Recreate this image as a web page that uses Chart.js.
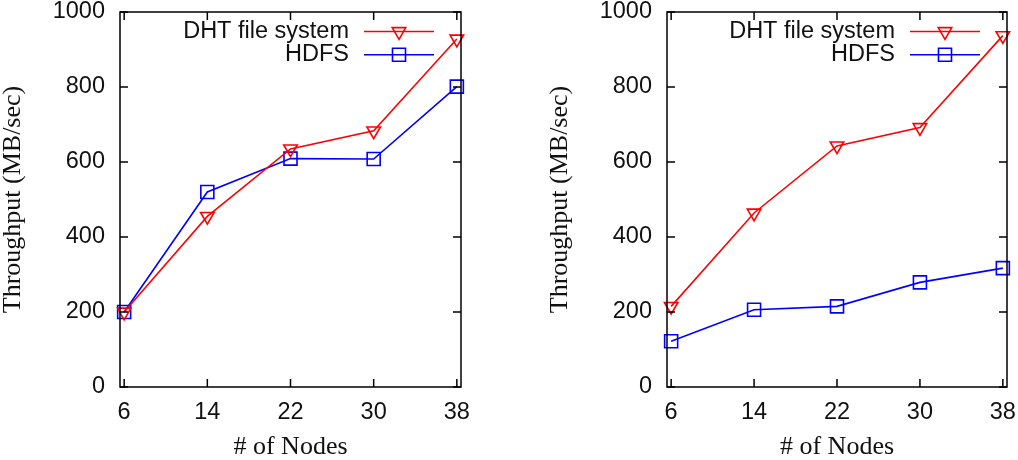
<!DOCTYPE html>
<html>
<head>
<meta charset="utf-8">
<script src="https://cdn.jsdelivr.net/npm/chart.js@4.4.0/dist/chart.umd.min.js"></script>
<style>
  html, body { margin: 0; padding: 0; background: #fff; }
  #wrap { position: relative; width: 1018px; height: 460px; }
  .panel { position: absolute; top: 0; width: 509px; height: 460px; }
</style>
</head>
<body>
<div id="wrap">
  <div class="panel" style="left:0"><canvas id="left" width="509" height="460"></canvas></div>
  <div class="panel" style="left:509px"><canvas id="right" width="509" height="460"></canvas></div>
</div>
<script>
// values
const nodes = [6, 14, 22, 30, 38];
const yTicks = [0, 200, 400, 600, 800, 1000];
const seriesNames = ["DHT file system", "HDFS"];
const leftDht = [200, 455, 635, 683, 928];
const leftHdfs = [200, 520, 609, 608, 801];
const rightDht = [215, 464, 643, 692, 937];
const rightHdfs = [122, 206, 215, 279, 317];

const SANS = "'Liberation Sans', Arial, sans-serif";
const SERIF = "'Liberation Serif', 'Times New Roman', serif";
const INK = "#111";
const TICK_SIZE = 23.5;
const TITLE_SIZE = 26;

// gnuplot style box, inward ticks and legend (text left of sample)
const gnuplotFrame = {
  id: "gnuplotFrame",
  afterDatasetsDraw(chart) {
    const { ctx, chartArea: a, scales: { x, y } } = chart;
    ctx.save();
    ctx.strokeStyle = "#000";
    ctx.lineWidth = 1.5;
    ctx.beginPath();
    x.ticks.forEach(t => {
      const px = x.getPixelForValue(t.value);
      ctx.moveTo(px, a.bottom); ctx.lineTo(px, a.bottom - 8);
      ctx.moveTo(px, a.top); ctx.lineTo(px, a.top + 8);
    });
    y.ticks.forEach(t => {
      const py = y.getPixelForValue(t.value);
      ctx.moveTo(a.left, py); ctx.lineTo(a.left + 8, py);
      ctx.moveTo(a.right, py); ctx.lineTo(a.right - 8, py);
    });
    ctx.stroke();
    ctx.strokeRect(a.left, a.top, a.right - a.left, a.bottom - a.top);

    // legend
    ctx.font = TICK_SIZE + "px " + SANS;
    ctx.textAlign = "right";
    ctx.textBaseline = "middle";
    chart.data.datasets.forEach((ds, i) => {
      const ly = a.top + 19.5 + i * 23.3;
      const x0 = a.right - 97, x1 = a.right - 27;
      ctx.fillStyle = INK;
      ctx.fillText(ds.label, a.right - 112, ly);
      ctx.strokeStyle = ds.borderColor;
      ctx.lineWidth = ds.borderWidth;
      ctx.beginPath();
      ctx.moveTo(x0, ly); ctx.lineTo(x1, ly);
      ctx.stroke();
      ctx.fillStyle = "rgba(0,0,0,0)";
      Chart.helpers.drawPoint(ctx, {
        pointStyle: ds.pointStyle,
        radius: ds.pointRadius,
        rotation: ds.pointRotation || 0,
        borderWidth: ds.borderWidth
      }, (x0 + x1) / 2, ly);
    });
    ctx.restore();
  }
};

function makeDataset(label, values, color, style) {
  const tri = style === "triangle";
  return {
    label: label,
    data: values.map((v, i) => ({ x: nodes[i], y: v })),
    borderColor: color,
    borderWidth: 1.6,
    pointStyle: style,
    pointRotation: tri ? 180 : 0,
    pointRadius: tri ? 7.8 : 9.2,
    pointBorderColor: color,
    pointBorderWidth: 1.6,
    pointBackgroundColor: "rgba(0,0,0,0)",
    pointHoverRadius: tri ? 7.8 : 9.2,
    tension: 0,
    clip: false
  };
}

function drawPlot(id, dht, hdfs, padLeft, padRight) {
  new Chart(document.getElementById(id), {
    type: "line",
    plugins: [gnuplotFrame],
    data: {
      datasets: [
        makeDataset(seriesNames[0], dht, "rgb(255,0,0)", "triangle"),
        makeDataset(seriesNames[1], hdfs, "rgb(0,0,255)", "rect")
      ]
    },
    options: {
      responsive: false,
      animation: false,
      events: [],
      layout: { padding: { top: 12, left: padLeft, right: padRight, bottom: 0 } },
      plugins: { legend: { display: false }, tooltip: { enabled: false } },
      scales: {
        x: {
          type: "linear",
          min: 5.6,
          max: 38.4,
          afterBuildTicks: s => { s.ticks = nodes.map(v => ({ value: v })); },
          grid: { display: false, drawTicks: false },
          border: { display: false },
          ticks: {
            font: { family: SANS, size: TICK_SIZE }, color: INK, padding: 11, maxRotation: 0,
            callback: v => String(v)
          },
          title: {
            display: true, text: "# of Nodes", color: INK, padding: 0,
            font: { family: SERIF, size: TITLE_SIZE, lineHeight: 1 }
          },
          afterFit: s => { s.height = 73; s.paddingLeft = 0; s.paddingRight = 0; }
        },
        y: {
          type: "linear",
          min: 0,
          max: 1000,
          afterBuildTicks: s => { s.ticks = yTicks.map(v => ({ value: v })); },
          grid: { display: false, drawTicks: false },
          border: { display: false },
          ticks: {
            font: { family: SANS, size: TICK_SIZE }, color: INK, padding: 15,
            callback: v => String(v)
          },
          title: {
            display: true, text: "Throughput (MB/sec)", color: INK, padding: 0,
            font: { family: SERIF, size: TITLE_SIZE, lineHeight: 1 }
          },
          afterFit: s => { s.width = 120; s.paddingTop = 0; s.paddingBottom = 0; }
        }
      }
    }
  });
}

drawPlot("left", leftDht, leftHdfs, 0, 48);
drawPlot("right", rightDht, rightHdfs, 38, 11);
</script>
</body>
</html>
